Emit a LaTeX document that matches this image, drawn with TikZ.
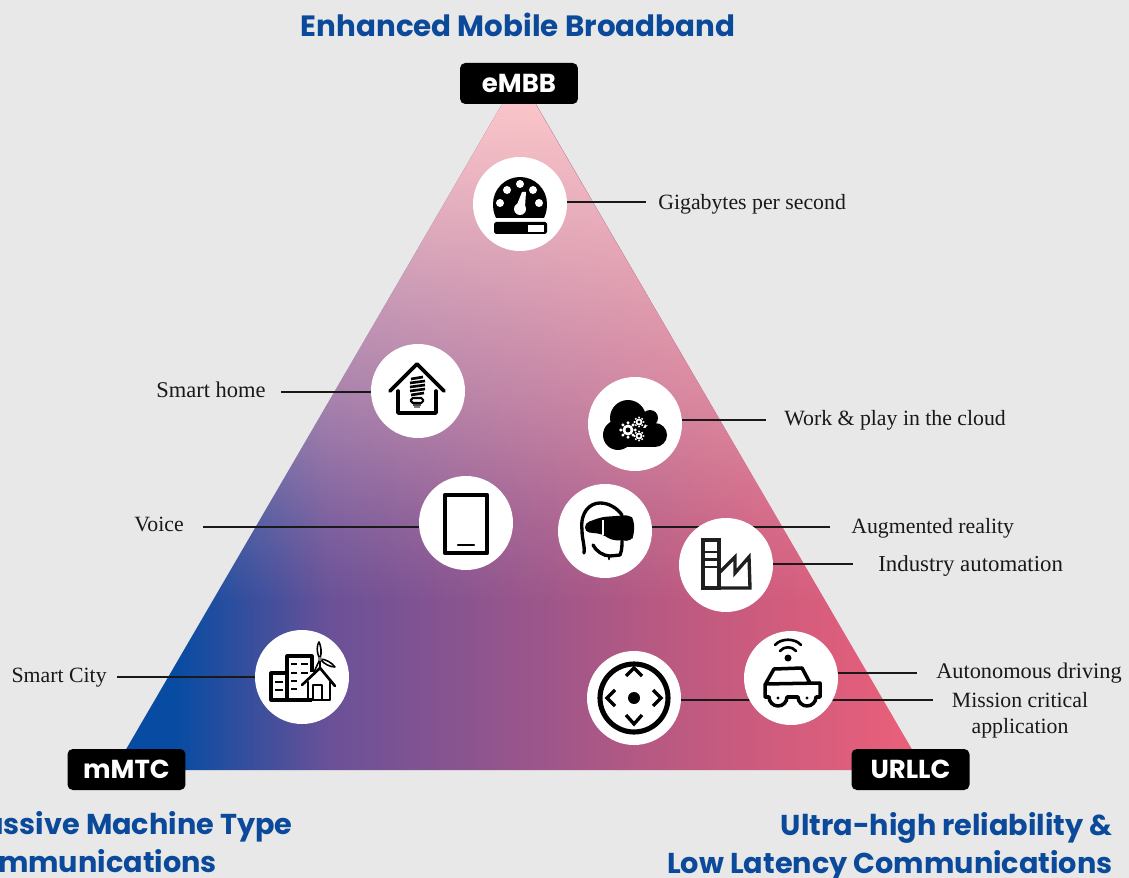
\documentclass[tikz,border=0pt]{standalone}
\usepackage{fontspec}
\setmainfont{Liberation Serif}
\newfontfamily\headfont{Poppins}
\usetikzlibrary{fadings,calc}
\definecolor{bgc}{HTML}{E8E8E8}
\definecolor{headc}{HTML}{0B4A9A}
\definecolor{toppink}{HTML}{FBC6CA}
\definecolor{c1}{HTML}{074CA2}
\definecolor{c2}{HTML}{6A5198}
\definecolor{c3}{HTML}{93558D}
\definecolor{c4}{HTML}{BF5A80}
\definecolor{c5}{HTML}{E85F7A}
\definecolor{fa}{gray}{0.15}
\definecolor{fb}{gray}{0.42}
\pgfdeclarehorizontalshading{triH}{100bp}{color(0bp)=(c1);color(28.8bp)=(c1);color(38.3bp)=(c2);color(48.8bp)=(c3);color(60.5bp)=(c4);color(73.5bp)=(c5);color(100bp)=(c5)}
\pgfdeclareverticalshading{pfshade}{100bp}{color(0bp)=(black);color(37bp)=(black);color(43bp)=(fa);color(51.6bp)=(fb);color(73bp)=(white);color(100bp)=(white)}
\pgfdeclarefading{pinkfade}{\pgfuseshading{pfshade}}
\newcommand{\gearic}[3]{%
  \fill[white] (#1,#2) circle (#3);
  \foreach \a in {0,45,...,315}{\fill[white] ($(#1,#2)+(\a:#3*1.3)$) circle (#3*0.3);}
  \fill[black] (#1,#2) circle (#3*0.45);}
\tikzset{
  circ/.style={circle,fill=white,minimum size=1.88cm,inner sep=0pt},
  conn/.style={draw=black!90,line width=0.75pt},
  lbl/.style={font=\fontsize{12.4}{15}\selectfont,text=black!90,inner sep=0pt,align=center},
  tag/.style={fill=black,rounded corners=3pt,text=white,font=\headfont\bfseries\fontsize{14.8}{16}\selectfont,minimum width=2.36cm,minimum height=0.82cm,inner sep=0pt},
  head/.style={text=headc,font=\headfont\bfseries\fontsize{16.7}{21.5}\selectfont,inner sep=0pt},
  headb/.style={head,font=\headfont\bfseries\fontsize{16.35}{21.5}\selectfont},
  ic/.style={draw=black,line width=1.9pt,line join=round,line cap=round},
}
\begin{document}
\begin{tikzpicture}[x=0.02cm,y=-0.02cm]
\useasboundingbox (0,0) rectangle (1129,878);
\fill[bgc] (0,0) rectangle (1129,878);
\begin{scope}
\clip (0,0) rectangle (1129,878);
% triangle
\path[shading=triH] (519,75) -- (924,770) -- (114,770) -- cycle;
\fill[toppink,path fading=pinkfade] (519,75) -- (924,770) -- (114,770) -- cycle;
% nodes under connectors
\node[circ] (gauge) at (520,204) {};
\node[circ] (home) at (418,391) {};
\node[circ] (cloud) at (635,424) {};
\node[circ] (tablet) at (466,523) {};
\node[circ] (vr) at (605,531) {};
\node[circ] (city) at (302,677) {};
\node[circ] (joy) at (634,698) {};
\coordinate (gaugeE) at (646,202);
\coordinate (homeE) at (281,392);
\coordinate (cloudE) at (766,420);
\coordinate (tabletE) at (203,527);
\coordinate (vrE) at (830,527);
\coordinate (factE) at (853,564);
\coordinate (cityE) at (117,677);
\coordinate (carE) at (917,673);
\coordinate (joyE) at (933,700);
\draw[conn] (gauge.east |- gaugeE) -- (gaugeE);
\draw[conn] (home.west |- homeE) -- (homeE);
\draw[conn] (cloud.east |- cloudE) -- (cloudE);
\draw[conn] (tablet.west |- tabletE) -- (tabletE);
\draw[conn] (vr.east |- vrE) -- (vrE);
\draw[conn] (city.west |- cityE) -- (cityE);
\draw[conn] (joy.east |- joyE) -- (joyE);
\node[circ] (fact) at (726,565) {};
\node[circ] (car) at (791,678) {};
\draw[conn] (fact.east |- factE) -- (factE);
\draw[conn] (car.east |- carE) -- (carE);
% gauge icon
\fill[black] (496,218) .. controls (493,211) and (493,208) .. (493,204) arc[start angle=180,end angle=360,radius=27] .. controls (547,208) and (547,211) .. (544,218) -- cycle;
\foreach \p in {(500,203),(507,190),(520,184),(533,190),(539,203)} {\fill[white] \p circle (4);}
\fill[white] (520,209) circle (6);
\fill[white] (516,207) -- (522,192) -- (526,192) -- (525,207) -- cycle;
\fill[black,rounded corners=1pt] (494,222) rectangle (547,234);
\fill[white] (528,225) rectangle (544,232);
% home icon
\draw[ic,line width=2.1pt] (390,391) -- (417,364) -- (444,391);
\draw[ic,line width=2.1pt] (398,391) -- (398,413) -- (436,413) -- (436,391);
\draw[black,line width=1.5pt] (411,379) -- (423,377) (410,383) -- (425,381) (410,387) -- (425,385) (410,391) -- (425,389) (411,395) -- (424,393);
\draw[black,line width=1.2pt,rounded corners=1pt] (411,398) rectangle (423,403);
\fill[black!70] (413,404) rectangle (421,406);
\fill[black!50] (414,406) rectangle (420,408);
% cloud icon
\fill[black] (618,435) circle (15);
\fill[black] (628,418) circle (18);
\fill[black] (650,418) circle (8);
\fill[black] (655,435) circle (12);
\fill[black] (618,428) rectangle (655,447);
\gearic{628}{430}{5.5}
\gearic{639}{422}{3.5}
\gearic{639}{436}{3.5}
% tablet icon
\draw[ic,line width=2.4pt,line cap=butt] (445,495) rectangle (487,553);
\draw[ic,line width=1.4pt] (458,545) -- (474,545);
% VR icon
\draw[ic,line width=1.9pt] (584,553) .. controls (585,545) and (582,540) .. (582,530) .. controls (580,512) and (590,503) .. (600,503) .. controls (609,503) and (617,508) .. (622,515);
\draw[ic,line width=1.9pt] (593,545) .. controls (596,551) and (603,556) .. (610,556) -- (620,555) .. controls (622,550) and (622,546) .. (622,541);
\draw[ic,line width=1.5pt] (609,556) -- (609,559);
\fill[black,rounded corners=2.5pt] (585,523) -- (602,517) -- (630,515) -- (634,520) -- (634,535) -- (631,541) -- (611,540) -- (602,534) -- (585,532) -- cycle;
\draw[white,line width=0.7pt] (603,520) -- (603,535);
% factory icon
\draw[ic,line cap=butt,line join=miter,draw=black!88] (703,540) rectangle (719,588);
\draw[ic,line cap=butt,line join=miter,draw=black!88] (719,588) -- (750,588) -- (749,557) -- (735,573) -- (735,557) -- (719,573);
\draw[ic,line width=1.6pt,line cap=butt,draw=black!88] (703,552) -- (719,552) (703,567) -- (719,567) (703,559.5) -- (719,559.5);
% city icon
\draw[ic,line width=1.8pt,line cap=butt] (287,700) -- (271,700) -- (271,673) -- (287,673);
\draw[ic,line width=1.8pt,line cap=butt] (312,700) -- (287,700) -- (287,656) -- (312,656) -- (312,672);
\draw[black,line width=1.1pt] (275,682) -- (283,682) (275,690) -- (283,690) (291,664) -- (297,664) (301,664) -- (308,664) (291,673) -- (297,673) (301,673) -- (308,673) (291,681) -- (297,681) (291,689) -- (297,689);
\draw[ic,line width=1.5pt] (302,685) -- (320,668) -- (335,686);
\draw[ic,line width=1.2pt] (308,682) -- (308,700) -- (330,700) -- (330,682);
\draw[ic,line width=1.1pt,line cap=butt] (313,700) -- (313,685) -- (322,685) -- (322,700);
\draw[ic,line width=0.9pt] (320,668) -- (320,659);
\draw[ic,line width=0.9pt] (320,659) .. controls (316,652) and (317,644) .. (319,642) .. controls (321,646) and (322,652) .. (320,659) .. controls (326,659) and (332,663) .. (335,667) .. controls (330,667) and (324,664) .. (320,659) -- (314,672);
\fill[gray] (320,659) circle (2);
% joystick icon
\draw[black,line width=2.9pt] (joy.center) circle (34);
\fill[black] (joy.center) circle (6);
\draw[ic,line cap=butt,line join=miter] (626,676) -- (634,668) -- (642,676);
\draw[ic,line cap=butt,line join=miter] (626,715) -- (634,724) -- (642,715);
\draw[ic,line cap=butt,line join=miter] (615,690) -- (607,698) -- (615,706);
\draw[ic,line cap=butt,line join=miter] (653,690) -- (661,698) -- (653,706);
% car icon
\fill[black] (788,658) circle (3.5);
\draw[black,line width=1.5pt,line cap=round] (780,651) .. controls (784,646) and (792,646) .. (796,651);
\draw[black,line width=1.5pt,line cap=round] (775,645) .. controls (781,638) and (795,638) .. (801,645);
\draw[ic,line width=2pt] (766,683) -- (774,669) -- (802,668) -- (810,683);
\draw[ic,line width=2pt] (769,697) -- (765,697) -- (765,684) -- (820,683) -- (820,697) -- (816,697);
\draw[ic,line width=2pt] (769,697) arc[start angle=180,end angle=0,radius=9] -- (798,697) arc[start angle=180,end angle=0,radius=9];
\fill[black] (778,698) circle (1.6);
\fill[black] (807,698) circle (1.6);
% labels
\node[lbl,anchor=west] (t1) at (658,204) {Gigabytes per second};
\node[lbl,anchor=east,font=\fontsize{12.8}{15}\selectfont] (t2) at (266,389.5) {Smart home};
\node[lbl,anchor=west] (t3) at (784,420) {Work \& play in the cloud};
\node[lbl,anchor=east] (t4) at (184,524) {Voice};
\node[lbl,anchor=west] (t5) at (851,528) {Augmented reality};
\node[lbl,anchor=west,font=\fontsize{13}{15}\selectfont] (t6) at (878,566) {Industry automation};
\node[lbl,anchor=east] (t7) at (107,678) {Smart City};
\node[lbl,anchor=west,font=\fontsize{12.7}{15}\selectfont] (t8) at (936,673) {Autonomous driving};
\node[lbl] (t9) at (1020,715) {Mission critical\\application};
% tags
\node[tag] (embb) at (519,83.5) {eMBB};
\node[tag] (mmtc) at (126.5,769.5) {mMTC};
\node[tag] (urllc) at (910.5,769.5) {URLLC};
% headings
\node[head] (h1) at (518,25) {Enhanced Mobile Broadband};
\node[headb,anchor=north east,align=left] (h2) at (293,811) {Massive Machine Type\\Communications};
\node[headb,anchor=north east,align=right] (h3) at (1113,812) {Ultra-high reliability \&\\Low Latency Communications};
\end{scope}
\end{tikzpicture}
\end{document}
